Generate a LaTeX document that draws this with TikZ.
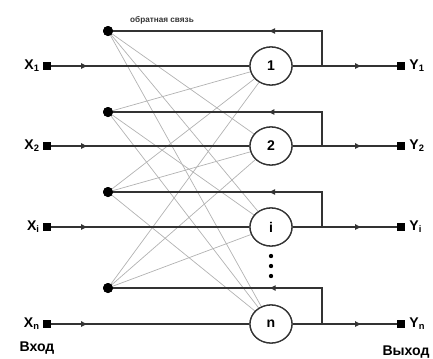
\documentclass[tikz,border=0pt]{standalone}
\usepackage{fontspec}
\setmainfont{Liberation Sans}
\usetikzlibrary{arrows.meta, shapes.geometric, decorations.markings}

\tikzset{
  mainline/.style={draw=black!80, line width=1.4pt},
  crossline/.style={draw=black!30, line width=0.6pt},
  neuron/.style={ellipse, draw=black!80, line width=1.1pt, fill=white,
    minimum width=1.26cm, minimum height=1.14cm, inner sep=0pt,
    font=\bfseries\large},
  portbox/.style={rectangle, fill=black, minimum size=0.24cm, inner sep=0pt},
  portlabel/.style={font=\bfseries\large, inner sep=1pt},
  fbdot/.style={circle, fill=black, minimum size=0.3cm, inner sep=0pt},
  smalldot/.style={circle, fill=black, minimum size=0.13cm, inner sep=0pt},
  arr/.style={postaction={decorate}, decoration={markings,
    mark=at position #1 with {\arrow{Triangle[length=5pt,width=4.5pt]}}}}
}

\begin{document}
\begin{tikzpicture}[x=0.03cm, y=-0.03cm]
    \useasboundingbox (0,0) rectangle (433,358);
    % neurons, ports and feedback points
    \foreach \k/\yin/\yfb in {1/66/31, 2/146/112, i/227/192, n/324/288} {
        \node[portbox] (x\k) at (47,\yin) {};
        \node[portlabel, anchor=east] (xl\k) at (41,\yin) {X\textsubscript{\k}};
        \node[neuron] (n\k) at (271,\yin) {\k};
        \node[portbox] (y\k) at (401,\yin) {};
        \node[portlabel, anchor=west] (yl\k) at (408,\yin) {Y\textsubscript{\k}};
        \node[fbdot] (f\k) at (108,\yfb) {};
        \coordinate (b\k) at (322,\yin);
    }
    % every feedback point goes to all other neurons
    \foreach \a/\b in {1/2,1/i,1/n,2/1,2/i,2/n,i/1,i/2,i/n,n/1,n/2,n/i}
        \draw[crossline] (f\a.center) -- (n\b);
    \foreach \k in {1,2,i,n} {
        \node[neuron] at (n\k) {\k};
        \node[fbdot] at (f\k) {};
        \draw[mainline, arr=0.18] (x\k) -- (n\k);
        \draw[mainline] (n\k) -- (b\k);
        \draw[mainline, arr=0.52] (b\k) -- (y\k);
        \draw[mainline, arr=0.36] (b\k) |- (f\k);
    }
    \foreach \y [count=\j] in {256,266,276}
        \node[smalldot] (d\j) at (271,\y) {};
    \node[font=\scriptsize\bfseries, text=black!80] (fb) at (162,20) {обратная связь};
    \node[font=\large\bfseries] (inp) at (37,348) {Вход};
    \node[font=\large\bfseries] (outp) at (406,352) {Выход};
\end{tikzpicture}
\end{document}
